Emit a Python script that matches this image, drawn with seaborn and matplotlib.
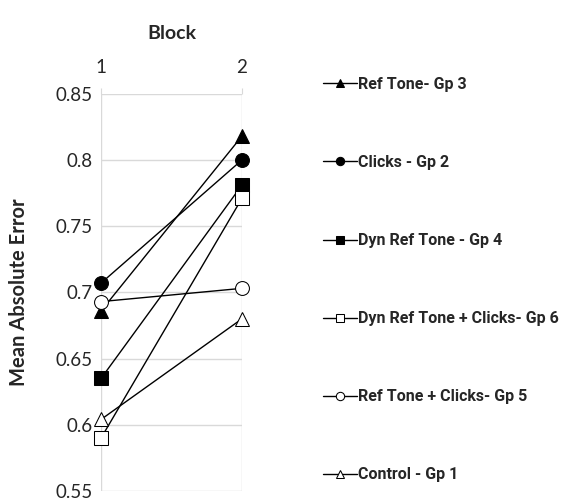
import matplotlib
matplotlib.use("Agg")
import matplotlib.pyplot as plt
import seaborn as sns

# Data
blocks = [1, 2]
groups = ["Ref Tone- Gp 3", "Clicks - Gp 2", "Dyn Ref Tone - Gp 4",
          "Dyn Ref Tone + Clicks- Gp 6", "Ref Tone + Clicks- Gp 5", "Control - Gp 1"]
gp3 = [0.686, 0.818]
gp2 = [0.707, 0.800]
gp4 = [0.635, 0.781]
gp6 = [0.590, 0.771]
gp5 = [0.693, 0.703]
gp1 = [0.604, 0.680]
values = [gp3, gp2, gp4, gp6, gp5, gp1]
markers = ["^", "o", "s", "s", "o", "^"]
faces = ["black", "black", "black", "white", "white", "white"]

sns.set_style("white")
plt.rcParams['font.family'] = ['Lato', 'DejaVu Sans']

fig = plt.figure(figsize=(5.68, 5.04), dpi=100)
ax = fig.add_axes([0.178, 0.026, 0.248, 0.788])

for name, vals, m, fc in zip(groups, values, markers, faces):
    sns.lineplot(x=blocks, y=vals, marker=m, color="black", markerfacecolor=fc,
                 markeredgecolor="black", markersize=10, linewidth=1.0,
                 label=name, ax=ax, clip_on=False, zorder=3)

ax.set_xlim(1, 2)
ax.set_ylim(0.55, 0.85)
ax.set_xticks([1, 2])
ax.set_xticklabels(["1", "2"])
ax.set_yticks([0.55, 0.6, 0.65, 0.7, 0.75, 0.8, 0.85])
ax.set_yticklabels(["0.55", "0.6", "0.65", "0.7", "0.75", "0.8", "0.85"])
ax.xaxis.tick_top()
ax.xaxis.set_label_position("top")
ax.grid(True, color="#d9d9d9", linewidth=1.0)
for s in ax.spines.values():
    s.set_visible(False)
ax.tick_params(axis="both", length=4, color="#d9d9d9", labelsize=13.5)
ax.tick_params(axis="x", pad=9)
ax.tick_params(axis="y", pad=2)
ax.set_xlabel("Block", fontsize=14, fontweight="bold", labelpad=14)
ax.set_ylabel("Mean Absolute Error", fontsize=14.5, fontweight="bold", labelpad=19)

handles, labels = ax.get_legend_handles_labels()
ax.get_legend().remove()
fig.legend(handles, labels, loc="upper left", bbox_to_anchor=(0.558, 0.86),
           frameon=False, markerscale=0.6, handlelength=2.1, handletextpad=0.1,
           labelspacing=3.95, borderaxespad=0,
           prop={"family": ["Roboto", "DejaVu Sans"], "weight": "bold", "size": 11.5})

fig.savefig("out.png", dpi=100)
